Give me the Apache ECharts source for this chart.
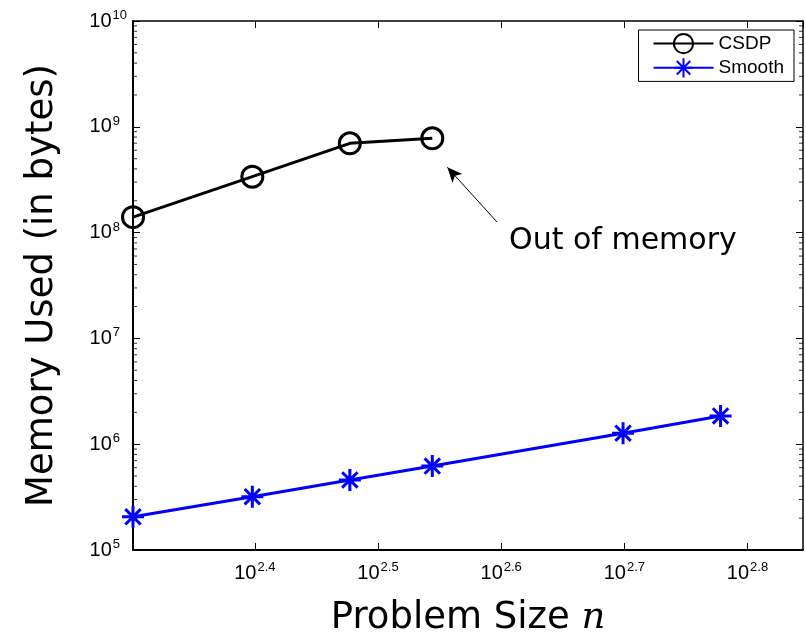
<!DOCTYPE html>
<html>
<head>
<meta charset="utf-8">
<script src="https://cdn.jsdelivr.net/npm/echarts@6/dist/echarts.min.js"></script>
<style>
  html, body { margin: 0; padding: 0; background: #fff; }
  #main { width: 806px; height: 642px; }
</style>
</head>
<body>
<div id="main"></div>
<script>
const chart = echarts.init(document.getElementById('main'))

// problem sizes n and memory (bytes)
const csdpN = [200, 250, 300, 350]
const csdpMem = [1.40e8, 3.38e8, 6.98e8, 7.79e8]
const smoothN = [200, 250, 300, 350, 500, 600]
const smoothMem = [2.06e5, 3.19e5, 4.59e5, 6.22e5, 1.27e6, 1.85e6]

const xRange = [200, 700]
const yRange = [1e5, 1e10]
const yDecades = [5, 6, 7, 8, 9]
const minorMult = [2, 3, 4, 5, 6, 7, 8, 9]

// ticks at 10^2.4, 10^2.5 ... -> log axis with base 10^0.1
const xBase = Math.pow(10, 0.1)

const tickFont = 'Liberation Sans, Arial, sans-serif'
const labelRich = {
  b: { fontSize: 20, fontFamily: tickFont, color: '#000', lineHeight: 20, verticalAlign: 'bottom' },
  s: { fontSize: 13, fontFamily: tickFont, color: '#000', lineHeight: 13, padding: [0, 0, 9, 1], verticalAlign: 'bottom' },
  // single digit exponent: keep the base "10" in the same place as for "10^10"
  t: { fontSize: 13, fontFamily: tickFont, color: '#000', lineHeight: 13, padding: [0, 7, 9, 1], verticalAlign: 'bottom' }
}

const pairs = (xs, ys) => xs.map((x, i) => [x, ys[i]])

// minor ticks on the log y axis (left and right side)
let minorLeft = [], minorRight = []
yDecades.forEach(d => {
  minorMult.forEach(m => {
    minorLeft.push([xRange[0], m * Math.pow(10, d)])
    minorRight.push([xRange[1], m * Math.pow(10, d)])
  })
})

const asterisk = 'path://M0,-10L0,10M-10,0L10,0M-7,-7L7,7M-7,7L7,-7'

let xAxisBase = {
  type: 'log',
  logBase: xBase,
  min: xRange[0],
  max: xRange[1],
  splitLine: { show: false },
  axisTick: { inside: true, length: 7, lineStyle: { color: '#000', width: 1 } }
}

let yAxisBase = {
  type: 'log',
  logBase: 10,
  min: yRange[0],
  max: yRange[1],
  splitLine: { show: false },
  axisTick: { inside: true, length: 7, lineStyle: { color: '#000', width: 1 } }
}

let option = {
  backgroundColor: '#fff',
  animation: false,
  grid: { left: 133, top: 21, right: 3, bottom: 92 },
  legend: {
    orient: 'vertical',
    right: 12,
    top: 30,
    backgroundColor: '#fff',
    borderColor: '#000',
    borderWidth: 1,
    borderRadius: 0,
    padding: [3, 10, 3, 14],
    itemGap: 3,
    itemWidth: 60,
    itemHeight: 24,
    textStyle: { fontFamily: tickFont, fontSize: 19, color: '#000' },
    data: ['CSDP', 'Smooth']
  },
  xAxis: [
    Object.assign({}, xAxisBase, {
      position: 'bottom',
      axisLine: { lineStyle: { color: '#000', width: 2 } },
      axisLabel: {
        showMinLabel: false,
        showMaxLabel: false,
        margin: 13,
        formatter: v => '{b|10}{s|' + Math.log10(v).toFixed(1) + '}',
        rich: labelRich
      },
      name: '{a|Problem Size }{n|n}',
      nameLocation: 'middle',
      nameGap: 50,
      nameTextStyle: {
        rich: {
          a: { fontFamily: 'DejaVu Sans', fontSize: 37, color: '#000' },
          n: { fontFamily: 'DejaVu Serif', fontStyle: 'italic', fontSize: 37, color: '#000' }
        }
      }
    }),
    Object.assign({}, xAxisBase, {
      position: 'top',
      axisLine: { lineStyle: { color: '#000', width: 1.5 } },
      axisLabel: { show: false }
    })
  ],
  yAxis: [
    Object.assign({}, yAxisBase, {
      position: 'left',
      axisLine: { lineStyle: { color: '#000', width: 2 } },
      axisLabel: {
        margin: 6,
        formatter: v => {
          const e = String(Math.round(Math.log10(v)))
          return '{b|10}{' + (e.length > 1 ? 's' : 't') + '|' + e + '}'
        },
        rich: labelRich
      },
      name: 'Memory Used (in bytes)',
      nameLocation: 'middle',
      nameGap: 72,
      nameTextStyle: { fontFamily: 'DejaVu Sans', fontSize: 37, color: '#000' }
    }),
    Object.assign({}, yAxisBase, {
      position: 'right',
      axisLine: { lineStyle: { color: '#000', width: 1.5 } },
      axisLabel: { show: false }
    })
  ],
  series: [
    {
      name: 'CSDP',
      type: 'line',
      data: pairs(csdpN, csdpMem),
      symbol: 'circle',
      symbolSize: 21,
      showAllSymbol: true,
      lineStyle: { color: '#000', width: 3 },
      itemStyle: { color: 'rgba(0,0,0,0)', borderColor: '#000', borderWidth: 3 },
      markLine: {
        silent: true,
        symbol: ['none', 'arrow'],
        symbolSize: [10, 15],
        lineStyle: { color: '#000', width: 1, type: 'solid' },
        label: { show: false },
        data: [[{ coord: [395, 1.26e8] }, { coord: [360, 4.14e8] }]]
      },
      markPoint: {
        silent: true,
        symbol: 'circle',
        symbolSize: 0,
        label: {
          show: true,
          position: 'right',
          distance: 0,
          formatter: 'Out of memory',
          fontFamily: 'DejaVu Sans',
          fontSize: 30,
          color: '#000'
        },
        data: [{ coord: [404, 8.3e7] }]
      }
    },
    {
      name: 'Smooth',
      type: 'line',
      data: pairs(smoothN, smoothMem),
      symbol: asterisk,
      symbolSize: 22,
      lineStyle: { color: '#0000ff', width: 3 },
      itemStyle: { color: '#0000ff', borderColor: '#0000ff', borderWidth: 3 }
    },
    {
      type: 'scatter',
      silent: true,
      clip: false,
      symbol: 'rect',
      symbolSize: [4, 1],
      symbolOffset: [2, 0],
      itemStyle: { color: '#000' },
      data: minorLeft
    },
    {
      type: 'scatter',
      silent: true,
      clip: false,
      symbol: 'rect',
      symbolSize: [4, 1],
      symbolOffset: [-2, 0],
      itemStyle: { color: '#000' },
      data: minorRight
    }
  ]
}
chart.setOption(option)
</script>
</body>
</html>
